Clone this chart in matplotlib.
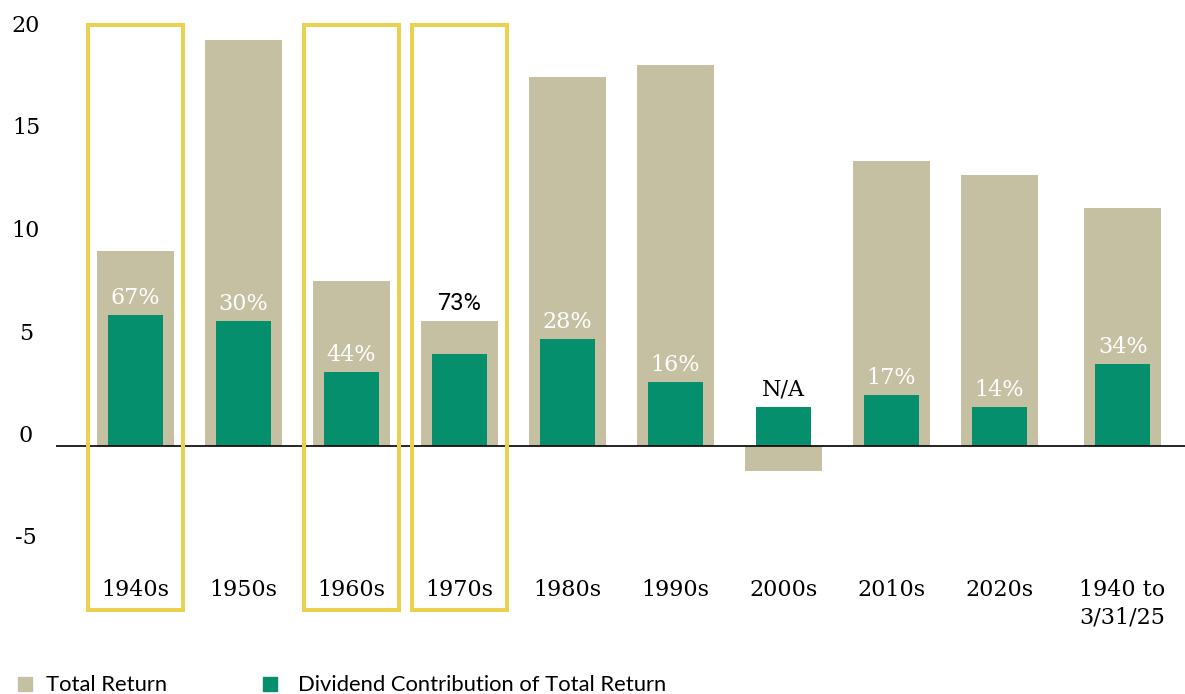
import numpy as np
import matplotlib
matplotlib.use("Agg")
import matplotlib.pyplot as plt
import matplotlib.patches as patches
from matplotlib.transforms import blended_transform_factory

# data
decades = ["1940s", "1950s", "1960s", "1970s", "1980s", "1990s",
           "2000s", "2010s", "2020s", "1940 to\n3/31/25"]
total_return = [9.5, 19.8, 8.05, 6.1, 18.0, 18.6, -1.2, 13.9, 13.2, 11.6]
dividend = [6.4, 6.1, 3.6, 4.5, 5.2, 3.1, 1.9, 2.5, 1.9, 4.0]
pct_labels = ["67%", "30%", "44%", "73%", "28%", "16%", "N/A", "17%", "14%", "34%"]
highlighted = ["1940s", "1960s", "1970s"]
yticks = [20, 15, 10, 5, 0, -5]
legend_names = ["Total Return", "Dividend Contribution of Total Return"]

TAN = "#C6C0A3"
GREEN = "#058F6C"
YELLOW = "#ECD050"
SLAB = "DejaVu Serif"

W, H = 1185, 694
fig = plt.figure(figsize=(W / 100, H / 100), dpi=100)

# axes: left edge at 56px, from top of image down to 620px
ax_top, ax_bot, ax_left = 0, 620, 56
ax = fig.add_axes([ax_left / W, 1 - ax_bot / H, (W - ax_left) / W, (ax_bot - ax_top) / H])

px_x = 108.0   # pixels per category
px_y = 20.5    # pixels per unit
zero_px = 446
x0_px = 135.5

# slight gap before the overall period
x = np.arange(len(decades), dtype=float)
x[-1] += 0.14

ax.set_xlim((ax_left - x0_px) / px_x, (W - x0_px) / px_x)
ax.set_ylim(-(ax_bot - zero_px) / px_y, (zero_px - ax_top) / px_y)
ax.axis("off")

ax.bar(x, total_return, width=77 / px_x, color=TAN, zorder=1)
ax.bar(x, dividend, width=55 / px_x, color=GREEN, zorder=2)
ax.axhline(0, color="black", lw=1.2, zorder=3)

# percentage labels
for xi, tr, dv, lab in zip(x, total_return, dividend, pct_labels):
    if lab == "N/A" or tr < 0:
        ax.text(xi, dv + 0.3, lab, ha="center", va="bottom", color="black",
                fontsize=16, family=SLAB, zorder=4)
    elif tr - dv < 2.0:
        ax.text(xi, tr + 0.3, lab, ha="center", va="bottom", color="black",
                fontsize=17, family="Roboto", zorder=4)
    else:
        ax.text(xi, dv + 0.3, lab, ha="center", va="bottom", color="white",
                fontsize=16, family=SLAB, zorder=4)

# category labels
for xi, name in zip(x, decades):
    ax.text(xi, -(579 - zero_px) / px_y, name, ha="center", va="top",
            fontsize=16, family=SLAB, linespacing=1.3)

# y tick labels (drawn slightly above their value)
trans = blended_transform_factory(fig.transFigure, ax.transData)
for v in yticks:
    ax.text(26 / W, v + 10 / px_y, str(v), transform=trans, ha="center", va="center",
            fontsize=16, family=SLAB, clip_on=False)

# highlight boxes
box_w = 95 / px_x
box_top = (zero_px - 24.5) / px_y
box_bot = -(610 - zero_px) / px_y
for xi, name in zip(x, decades):
    if name in highlighted:
        ax.add_patch(patches.Rectangle((xi - box_w / 2, box_bot), box_w, box_top - box_bot,
                                       fill=False, edgecolor=YELLOW, lw=2.9,
                                       clip_on=False, zorder=5))

# legend
for (sx, tx), name, col in zip([(18, 46), (263, 298)], legend_names, [TAN, GREEN]):
    fig.add_artist(patches.Rectangle((sx / W, 1 - 691 / H), 14 / W, 14 / H,
                                     transform=fig.transFigure, color=col))
    fig.text(tx / W, 1 - 685 / H, name, ha="left", va="center",
             fontsize=15.8, family="Lato")

fig.savefig("out.png", dpi=100)
